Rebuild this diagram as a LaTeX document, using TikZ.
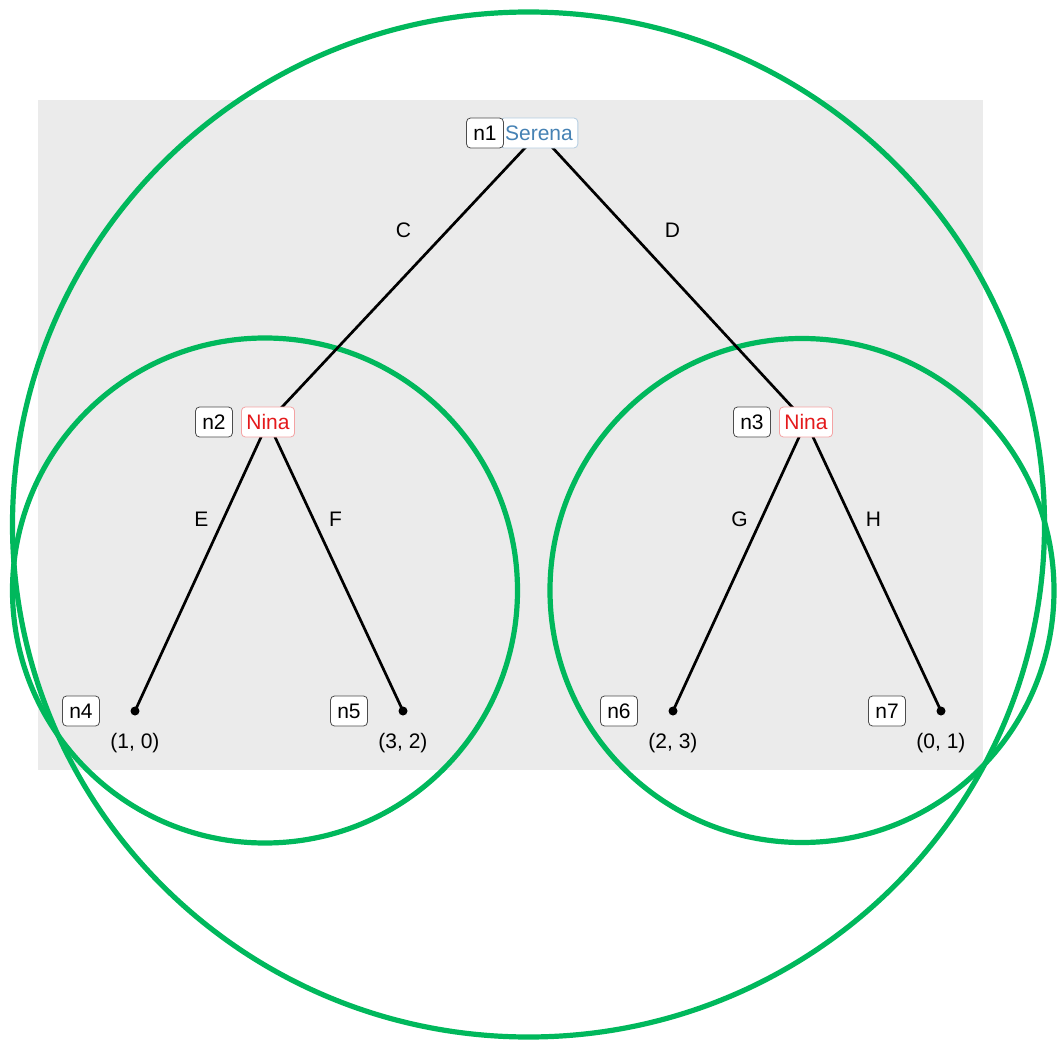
\documentclass[tikz,border=0pt]{standalone}
\usepackage{fontspec}
\setmainfont{Liberation Sans}
\usetikzlibrary{positioning}
\definecolor{panel}{HTML}{EBEBEB}
\definecolor{ringgreen}{HTML}{00B85C}
\definecolor{serenablue}{HTML}{4682B4}
\definecolor{ninared}{HTML}{E41A1C}
\newcommand{\lblfont}{\fontsize{10.5}{12}\selectfont}
\tikzset{tag/.style={draw=black!70,fill=white,rounded corners=2pt,minimum height=15pt,inner xsep=3.4pt,inner ysep=0pt,font=\lblfont},
  player/.style={draw=#1!40,fill=white,text=#1,rounded corners=2pt,minimum height=15pt,inner xsep=2.5pt,inner ysep=0pt,font=\lblfont},
  ring/.style={ringgreen,line width=2.6pt},
  branch/.style={line width=1.35pt},
  leaf/.style={circle,fill,inner sep=0pt,minimum size=4.5pt},
  move/.style={midway,yshift=23.5pt,font=\lblfont},
  payoff/.style={font=\lblfont}}

\begin{document}
\begin{tikzpicture}[x=0.5pt,y=-0.5pt]
\useasboundingbox (0,0) rectangle (1057,1044);
\fill[panel] (38,100) rectangle (983,770);
\coordinate (n1) at (539,133);
\coordinate (n2) at (268,422);
\coordinate (n3) at (806,422);
\foreach \n/\x in {n4/135,n5/403,n6/673,n7/941}
  \coordinate (\n) at (\x,711);
% information sets
\draw[ring] (528.5,524.5) ellipse [x radius=258pt,y radius=256.25pt];
\draw[ring] (265,590.5) circle [radius=126.25pt];
\draw[ring] (802,590.5) circle [radius=126pt];
\draw[branch] (n1) -- node[move] {C} (n2);
\draw[branch] (n1) -- node[move] {D} (n3);
\draw[branch] (n2) -- node[move] {E} (n4);
\draw[branch] (n2) -- node[move] {F} (n5);
\draw[branch] (n3) -- node[move] {G} (n6);
\draw[branch] (n3) -- node[move] {H} (n7);
\node[player=serenablue] (p1) at (n1) {Serena};
\node[player=ninared] (p2) at (n2) {Nina};
\node[player=ninared] (p3) at (n3) {Nina};
\foreach \n in {n1,n2,n3}
  \node[tag] (t\n) at ([xshift=-27pt]\n) {\n};
\foreach \n/\pay in {n4/{(1, 0)},n5/{(3, 2)},n6/{(2, 3)},n7/{(0, 1)}} {
  \node[leaf] (d\n) at (\n) {};
  \node[tag] (t\n) at ([xshift=-27pt]\n) {\n};
  \node[payoff] (u\n) at ([yshift=-16pt]\n) {\pay};}
\end{tikzpicture}
\end{document}
